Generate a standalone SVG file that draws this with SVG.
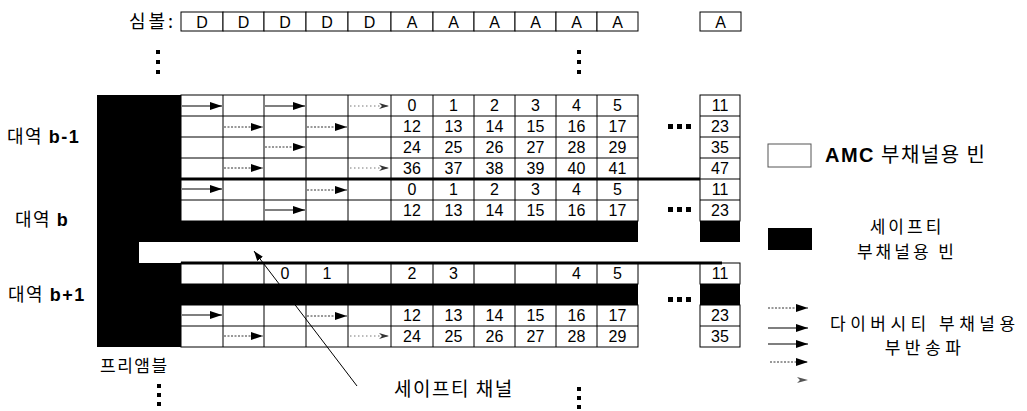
<svg xmlns="http://www.w3.org/2000/svg" width="1027" height="411" viewBox="0 0 1027 411">
<style>
.ko{font-family:"Noto Sans CJK KR",sans-serif;fill:#000}
.lat{font-family:"Liberation Sans",Arial,sans-serif;font-weight:bold}
.n{font-family:"Liberation Sans",Arial,sans-serif;font-size:16px;text-anchor:middle;fill:#000}
.cell{fill:#fff;stroke:#000;stroke-width:1}
.ln{fill:none;stroke:#000;stroke-width:1}
.blk{fill:#000}
.sol{stroke:#000;stroke-width:1.2;fill:none}
.dot{stroke:#333;stroke-width:1;stroke-dasharray:2 1.5;fill:none}
.fd{stroke:#777;stroke-width:1;stroke-dasharray:1.5 2.5;fill:none}
.thick{stroke:#000;stroke-width:3;fill:none}
</style>
<defs>
<marker id="ah" markerUnits="userSpaceOnUse" markerWidth="12" markerHeight="8" refX="12" refY="4" orient="auto"><path d="M0,0 L12,4 L0,8 z" fill="#000"/></marker>
<marker id="ah2" markerUnits="userSpaceOnUse" markerWidth="10" markerHeight="6" refX="10" refY="3" orient="auto"><path d="M0,0 L10,3 L0,6 L3,3 z" fill="#333"/></marker>
<marker id="ah3" markerUnits="userSpaceOnUse" markerWidth="10" markerHeight="7" refX="10" refY="3.5" orient="auto"><path d="M0,0 L10,3.5 L0,7 z" fill="#000"/></marker>
</defs>
<rect width="1027" height="411" fill="#fff"/>

<g id="symbols">
<text class="ko" x="176" y="28" font-size="18" letter-spacing="3" text-anchor="end">심볼:</text>
<rect class="cell" x="181" y="12" width="42" height="19"/>
<rect class="cell" x="223" y="12" width="41" height="19"/>
<rect class="cell" x="264" y="12" width="42" height="19"/>
<rect class="cell" x="306" y="12" width="42" height="19"/>
<rect class="cell" x="348" y="12" width="43" height="19"/>
<rect class="cell" x="391" y="12" width="42" height="19"/>
<rect class="cell" x="433" y="12" width="41" height="19"/>
<rect class="cell" x="474" y="12" width="41" height="19"/>
<rect class="cell" x="515" y="12" width="41" height="19"/>
<rect class="cell" x="556" y="12" width="41" height="19"/>
<rect class="cell" x="597" y="12" width="41" height="19"/>
<rect class="cell" x="700" y="12" width="41" height="19"/>
<text class="n" y="28"><tspan x="202">D</tspan><tspan x="243.5">D</tspan><tspan x="285">D</tspan><tspan x="327">D</tspan><tspan x="369.5">D</tspan><tspan x="412">A</tspan><tspan x="453.5">A</tspan><tspan x="494.5">A</tspan><tspan x="535.5">A</tspan><tspan x="576.5">A</tspan><tspan x="617.5">A</tspan><tspan x="720.5">A</tspan></text>
</g>

<g id="vdots" class="blk">
<rect x="156" y="50" width="4" height="4"/><rect x="156" y="60" width="4" height="4"/><rect x="156" y="70" width="4" height="4"/>
<rect x="577" y="50" width="4" height="4"/><rect x="577" y="60" width="4" height="4"/><rect x="577" y="70" width="4" height="4"/>
<rect x="157" y="384" width="4" height="4"/><rect x="157" y="393" width="4" height="4"/><rect x="157" y="402" width="4" height="4"/>
<rect x="577" y="387" width="4" height="4"/><rect x="577" y="396" width="4" height="4"/><rect x="577" y="405" width="4" height="4"/>
</g>

<g id="band-labels">
<text class="ko" x="7" y="143" font-size="18" letter-spacing="1.5">대역 <tspan class="lat">b-1</tspan></text>
<text class="ko" x="15" y="226" font-size="18" letter-spacing="1.5">대역 <tspan class="lat">b</tspan></text>
<text class="ko" x="8" y="301" font-size="18" letter-spacing="1.5">대역 <tspan class="lat">b+1</tspan></text>
<text class="ko" x="100" y="372" font-size="17" letter-spacing="1.5">프리앰블</text>
</g>

<g id="preamble">
<path class="blk" d="M97,95 H181 V242 H139 V263 H181 V347 H97 Z"/>
</g>

<g id="band-b-1-and-b">
<rect class="cell" x="181" y="95" width="457" height="126"/>
<path class="ln" d="M181,116 H638 M181,137 H638 M181,158 H638 M181,200 H638 M223,95 V221 M264,95 V221 M306,95 V221 M348,95 V221 M391,95 V221 M433,95 V221 M474,95 V221 M515,95 V221 M556,95 V221 M597,95 V221"/>
<rect class="cell" x="700" y="95" width="40" height="126"/>
<path class="ln" d="M700,116 H740 M700,137 H740 M700,158 H740 M700,179 H740 M700,200 H740"/>
<rect class="blk" x="181" y="221" width="457" height="21"/>
<rect class="blk" x="700" y="221" width="40" height="21"/>
<line class="thick" x1="181" y1="179" x2="700" y2="179"/>
<text class="n" y="111"><tspan x="412">0</tspan><tspan x="453.5">1</tspan><tspan x="494.5">2</tspan><tspan x="535.5">3</tspan><tspan x="576.5">4</tspan><tspan x="617.5">5</tspan><tspan x="720">11</tspan></text>
<text class="n" y="132"><tspan x="412">12</tspan><tspan x="453.5">13</tspan><tspan x="494.5">14</tspan><tspan x="535.5">15</tspan><tspan x="576.5">16</tspan><tspan x="617.5">17</tspan><tspan x="720">23</tspan></text>
<text class="n" y="153"><tspan x="412">24</tspan><tspan x="453.5">25</tspan><tspan x="494.5">26</tspan><tspan x="535.5">27</tspan><tspan x="576.5">28</tspan><tspan x="617.5">29</tspan><tspan x="720">35</tspan></text>
<text class="n" y="174"><tspan x="412">36</tspan><tspan x="453.5">37</tspan><tspan x="494.5">38</tspan><tspan x="535.5">39</tspan><tspan x="576.5">40</tspan><tspan x="617.5">41</tspan><tspan x="720">47</tspan></text>
<text class="n" y="195"><tspan x="412">0</tspan><tspan x="453.5">1</tspan><tspan x="494.5">2</tspan><tspan x="535.5">3</tspan><tspan x="576.5">4</tspan><tspan x="617.5">5</tspan><tspan x="720">11</tspan></text>
<text class="n" y="216"><tspan x="412">12</tspan><tspan x="453.5">13</tspan><tspan x="494.5">14</tspan><tspan x="535.5">15</tspan><tspan x="576.5">16</tspan><tspan x="617.5">17</tspan><tspan x="720">23</tspan></text>
</g>

<g id="band-b+1">
<rect class="cell" x="181" y="263" width="457" height="21"/>
<path class="ln" d="M223,263 V284 M264,263 V284 M306,263 V284 M348,263 V284 M391,263 V284 M433,263 V284 M474,263 V284 M515,263 V284 M556,263 V284 M597,263 V284"/>
<rect class="blk" x="181" y="284" width="457" height="21"/>
<rect class="cell" x="181" y="305" width="457" height="42"/>
<path class="ln" d="M181,326 H638 M223,305 V347 M264,305 V347 M306,305 V347 M348,305 V347 M391,305 V347 M433,305 V347 M474,305 V347 M515,305 V347 M556,305 V347 M597,305 V347"/>
<rect class="cell" x="700" y="263" width="40" height="21"/>
<rect class="blk" x="700" y="284" width="40" height="21"/>
<rect class="cell" x="700" y="305" width="40" height="42"/>
<path class="ln" d="M700,326 H740"/>
<line class="thick" x1="181" y1="263" x2="722" y2="263"/>
<text class="n" y="279"><tspan x="285">0</tspan><tspan x="327">1</tspan><tspan x="412">2</tspan><tspan x="453.5">3</tspan><tspan x="576.5">4</tspan><tspan x="617.5">5</tspan><tspan x="720">11</tspan></text>
<text class="n" y="321"><tspan x="412">12</tspan><tspan x="453.5">13</tspan><tspan x="494.5">14</tspan><tspan x="535.5">15</tspan><tspan x="576.5">16</tspan><tspan x="617.5">17</tspan><tspan x="720">23</tspan></text>
<text class="n" y="342"><tspan x="412">24</tspan><tspan x="453.5">25</tspan><tspan x="494.5">26</tspan><tspan x="535.5">27</tspan><tspan x="576.5">28</tspan><tspan x="617.5">29</tspan><tspan x="720">35</tspan></text>
</g>

<g id="hdots" class="blk">
<rect x="668" y="124" width="5" height="5"/><rect x="677" y="124" width="5" height="5"/><rect x="686" y="124" width="5" height="5"/>
<rect x="668" y="207" width="5" height="5"/><rect x="677" y="207" width="5" height="5"/><rect x="686" y="207" width="5" height="5"/>
<rect x="668" y="297" width="5" height="5"/><rect x="677" y="297" width="5" height="5"/><rect x="686" y="297" width="5" height="5"/>
</g>

<g id="connectors">
<line class="sol" x1="182" y1="106" x2="222" y2="106" marker-end="url(#ah)"/>
<line class="sol" x1="265" y1="106" x2="305" y2="106" marker-end="url(#ah)"/>
<line class="fd" x1="350" y1="106" x2="389" y2="106" marker-end="url(#ah2)"/>
<line class="dot" x1="224" y1="127" x2="263" y2="127" marker-end="url(#ah)"/>
<line class="dot" x1="307" y1="127" x2="347" y2="127" marker-end="url(#ah)"/>
<line class="dot" x1="265" y1="147" x2="305" y2="147" marker-end="url(#ah)"/>
<line class="dot" x1="224" y1="168" x2="263" y2="168" marker-end="url(#ah)"/>
<line class="fd" x1="350" y1="168" x2="389" y2="168" marker-end="url(#ah2)"/>
<line class="sol" x1="182" y1="189" x2="222" y2="189" marker-end="url(#ah)"/>
<line class="dot" x1="307" y1="190" x2="347" y2="190" marker-end="url(#ah)"/>
<line class="sol" x1="265" y1="210" x2="305" y2="210" marker-end="url(#ah)"/>
<line class="sol" x1="182" y1="315" x2="222" y2="315" marker-end="url(#ah)"/>
<line class="dot" x1="307" y1="316" x2="347" y2="316" marker-end="url(#ah)"/>
<line class="dot" x1="224" y1="336" x2="263" y2="336" marker-end="url(#ah)"/>
<line class="fd" x1="350" y1="336" x2="389" y2="336" marker-end="url(#ah2)"/>
<line class="ln" x1="357" y1="386" x2="254" y2="251" marker-end="url(#ah3)"/>
</g>

<g id="safety-label">
<text class="ko" x="394" y="396" font-size="19" letter-spacing="1.5">세이프티 채널</text>
</g>

<g id="legend">
<rect x="768" y="144" width="43" height="23" fill="#fff" stroke="#555" stroke-width="1"/>
<text class="ko" x="825" y="162" font-size="20" letter-spacing="1.5"><tspan class="lat">AMC</tspan> 부채널용 빈</text>
<rect class="blk" x="768" y="228" width="44" height="22"/>
<text class="ko" x="907" y="233" font-size="17" letter-spacing="3" text-anchor="middle">세이프티</text>
<text class="ko" x="907" y="258" font-size="17" letter-spacing="3" text-anchor="middle">부채널용 빈</text>
<line class="dot" x1="768" y1="308" x2="808" y2="308" marker-end="url(#ah)"/>
<line class="sol" x1="768" y1="328" x2="808" y2="328" marker-end="url(#ah)"/>
<line class="sol" x1="768" y1="344" x2="808" y2="344" marker-end="url(#ah)"/>
<line class="dot" x1="770" y1="362" x2="808" y2="362" marker-end="url(#ah)"/>
<path d="M797,377 L808,380 L797,383 L800,380 z" fill="#555"/>
<text class="ko" x="830" y="330" font-size="17" letter-spacing="4.5">다이버시티 부채널용</text>
<text class="ko" x="925" y="354" font-size="17" letter-spacing="4.5" text-anchor="middle">부반송파</text>
</g>
</svg>
